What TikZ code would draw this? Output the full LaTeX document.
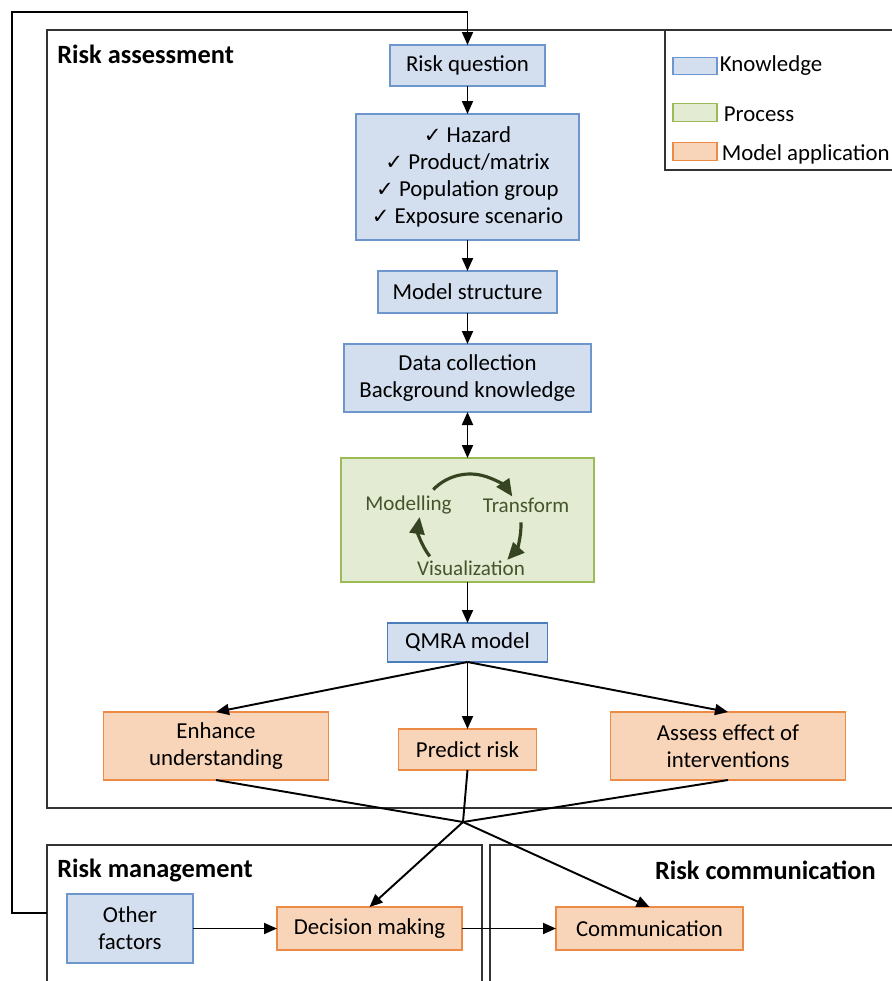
\documentclass[tikz,border=0pt]{standalone}
\usepackage{fontspec}
\setmainfont{Carlito}
\newfontfamily\symfont{DejaVu Sans}
\usetikzlibrary{arrows.meta,positioning}
\definecolor{knowfill}{HTML}{D3DEEF}
\definecolor{knowdraw}{HTML}{6D96CD}
\definecolor{qmradraw}{HTML}{4A7EBB}
\definecolor{procfill}{HTML}{E3EBD3}
\definecolor{procdraw}{HTML}{9BBB59}
\definecolor{proctext}{HTML}{44552B}
\definecolor{appfill}{HTML}{F8D4B8}
\definecolor{appdraw}{HTML}{ED8A45}
\newcommand{\chk}{{\symfont\fontsize{12}{14}\selectfont ✓}\ }
\tikzset{
  basenode/.style={rectangle, inner sep=0pt, outer sep=0pt, font=\fontsize{13}{15.5}\selectfont, align=center},
  knownode/.style={basenode, draw=knowdraw, fill=knowfill, line width=0.6pt},
  qmranode/.style={knownode, draw=qmradraw, line width=1.1pt},
  procnode/.style={basenode, draw=procdraw, fill=procfill, line width=0.6pt},
  appnode/.style={basenode, draw=appdraw, fill=appfill, line width=0.6pt},
  swatch/.style={rectangle, inner sep=0pt, minimum width=8.8mm, minimum height=3.5mm, line width=0.6pt},
  titletext/.style={font=\fontsize{15}{18}\selectfont\bfseries, inner sep=0pt},
  legendtext/.style={font=\fontsize{13}{15.5}\selectfont, inner sep=0pt, anchor=west},
  cycletext/.style={font=\fontsize{12}{14}\selectfont, text=proctext, inner sep=0pt},
  normaledge/.style={-{Triangle[length=2.6mm,width=2.2mm]}, draw=black, line width=1.1pt},
  bothedge/.style={{Triangle[length=2.6mm,width=2.2mm]}-{Triangle[length=2.6mm,width=2.2mm]}, draw=black, line width=1.1pt},
  plainedge/.style={draw=black, line width=1.1pt},
  cycleedge/.style={-{Triangle[length=3.4mm,width=3mm]}, draw=proctext!80!black, line width=1.8pt},
  frameline/.style={draw=black!80, line width=0.6pt},
}

\begin{document}
\begin{tikzpicture}[x=0.2mm, y=-0.2mm]
  \useasboundingbox (0,0) rectangle (891,981);
  % frames
  \draw[frameline] (47,30) rectangle (895,808);
  \draw[frameline] (665,30) rectangle (895,170);
  \draw[frameline] (47,845) rectangle (482,990);
  \draw[frameline] (490,845) rectangle (895,990);
  \node[titletext, anchor=west] (ratitle) at (57,54) {Risk assessment};
  \node[titletext, anchor=west] (rmtitle) at (57,870) {Risk management};
  \node[titletext, anchor=east] (rctitle) at (876,870) {Risk communication};

  % legend
  \node[swatch, draw=knowdraw, fill=knowfill] (kswatch) at (695,66) {};
  \node[legendtext, right=0.4mm of kswatch] (klabel) {Knowledge};
  \node[swatch, draw=procdraw, fill=procfill] (pswatch) at (695,112.5) {};
  \node[legendtext, right=1.2mm of pswatch, yshift=-0.3mm] (plabel) {Process};
  \node[swatch, draw=appdraw, fill=appfill] (aswatch) at (695,151.5) {};
  \node[legendtext, right=0.8mm of aswatch, yshift=-0.5mm] (alabel) {Model application};

  % assessment chain
  \node[knownode, minimum width=31mm, minimum height=8.2mm] (rq) at (467.5,65.5) {Risk question};
  \node[knownode, minimum width=44.6mm, minimum height=25.2mm, below=5.6mm of rq] (scope)
    {\chk Hazard\\ \chk Product/matrix\\ \chk Population group\\ \chk Exposure scenario};
  \node[knownode, minimum width=35.8mm, minimum height=8.4mm, below=6.2mm of scope] (ms) {Model structure};
  \node[knownode, minimum width=49.4mm, minimum height=13.6mm, below=6.2mm of ms] (data)
    {Data collection\\ Background knowledge};
  \node[procnode, minimum width=50.6mm, minimum height=24.8mm, below=9.2mm of data] (proc) {};
  \node[qmranode, minimum width=32mm, minimum height=7.8mm, below=8.2mm of proc] (qmra) {QMRA model};

  % process cycle
  \coordinate (cyc) at (470,525);
  \node[cycletext] (modl) at (408.5,505) {Modelling};
  \node[cycletext] (trf) at (526,505) {Transform};
  \node[cycletext] (vis) at (471,568) {Visualization};
  \draw[cycleedge] (cyc) ++(224:51) arc[start angle=224, end angle=326, radius=51];
  \draw[cycleedge] (cyc) ++(-3:51) arc[start angle=-3, end angle=43, radius=51];
  \draw[cycleedge] (cyc) ++(142:51) arc[start angle=142, end angle=189, radius=51];

  % applications
  \node[appnode, minimum width=27.6mm, minimum height=8.2mm, below=13.4mm of qmra] (pred) {Predict risk};
  \node[appnode, minimum width=45mm, minimum height=13.6mm, left=14mm of pred, yshift=0.7mm] (enh)
    {Enhance\\ understanding};
  \node[appnode, minimum width=47mm, minimum height=13.6mm, right=14.8mm of pred, yshift=0.7mm] (asf)
    {Assess effect of\\ interventions};

  % management and communication
  \node[appnode, minimum width=37mm, minimum height=8.6mm] (dec) at (369.5,928.5) {Decision making};
  \node[knownode, minimum width=25.2mm, minimum height=13.8mm, left=16.8mm of dec] (other)
    {Other\\ factors};
  \node[appnode, minimum width=37.4mm, minimum height=8.6mm, right=18.8mm of dec] (comm) {Communication};

  % connectors
  \draw[normaledge] (rq) -- (scope);
  \draw[normaledge] (scope) -- (ms);
  \draw[normaledge] (ms) -- (data);
  \draw[bothedge] (data) -- (proc);
  \draw[normaledge] (proc) -- (qmra);
  \draw[normaledge] (qmra.south) -- (enh.north);
  \draw[normaledge] (qmra.south) -- (pred.north);
  \draw[normaledge] (qmra.south) -- (asf.north);
  \coordinate (jn) at (463,822);
  \draw[plainedge] (enh.south) -- (jn);
  \draw[plainedge] (pred.south) -- (jn);
  \draw[plainedge] (asf.south) -- (jn);
  \draw[normaledge] (jn) -- (dec.north);
  \draw[normaledge] (jn) -- (comm.north);
  \draw[normaledge] (other) -- (dec);
  \draw[normaledge] (dec) -- (comm);
  % feedback loop
  \coordinate (fbstart) at (47,913);
  \draw[normaledge] (fbstart) -| (12,12) -| (rq.north);
\end{tikzpicture}
\end{document}
